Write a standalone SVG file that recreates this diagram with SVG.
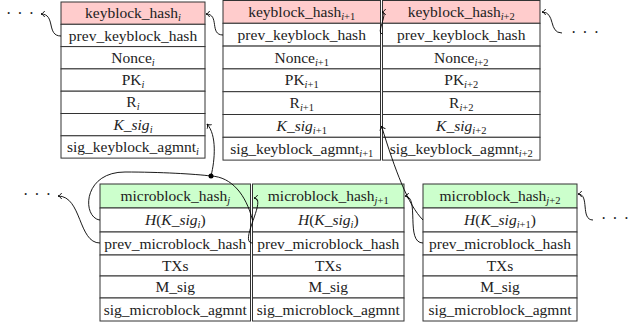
<svg xmlns="http://www.w3.org/2000/svg" width="629" height="327" viewBox="0 0 629 327">
<style>
.r{fill:#fff;stroke:#333;stroke-width:1}
.kh{fill:#ffcccc;stroke:#333;stroke-width:1}
.mh{fill:#ccffcc;stroke:#333;stroke-width:1}
text{font-family:"Liberation Serif","Times New Roman",serif;font-size:15.5px;fill:#222;text-anchor:middle}
.s{font-size:10.5px}
.it{font-style:italic}
.c{fill:none;stroke:#000;stroke-width:0.9;marker-end:url(#a)}
.l{fill:none;stroke:#000;stroke-width:0.9}
.d{font-size:16px;text-anchor:start;letter-spacing:1px;fill:#222}
</style>
<defs>
<marker id="a" markerUnits="userSpaceOnUse" markerWidth="10" markerHeight="10" viewBox="-5 -5 10 10" refX="0" refY="0" orient="auto">
<path d="M-3.6,-3 C-2.6,-1.1 -1.2,-0.3 0,0 C-1.2,0.3 -2.6,1.1 -3.6,3" fill="none" stroke="#000" stroke-width="0.9"/>
</marker>
</defs>

<g id="keyblock_i">
<rect class="kh" x="61" y="2" width="144" height="22.3"/>
<rect class="r" x="61" y="24.3" width="144" height="22.3"/>
<rect class="r" x="61" y="46.6" width="144" height="22.3"/>
<rect class="r" x="61" y="68.9" width="144" height="22.3"/>
<rect class="r" x="61" y="91.2" width="144" height="22.3"/>
<rect class="r" x="61" y="113.5" width="144" height="22.3"/>
<rect class="r" x="61" y="135.8" width="144" height="22.3"/>
<text x="133" y="18.2">keyblock_hash<tspan class="s it" dy="3">i</tspan></text>
<text x="133" y="40.5">prev_keyblock_hash</text>
<text x="133" y="62.8">Nonce<tspan class="s it" dy="3">i</tspan></text>
<text x="133" y="85.1">PK<tspan class="s it" dy="3">i</tspan></text>
<text x="133" y="107.4">R<tspan class="s it" dy="3">i</tspan></text>
<text x="133" y="129.7"><tspan class="it">K_sig</tspan><tspan class="s it" dy="3">i</tspan></text>
<text x="133" y="152">sig_keyblock_agmnt<tspan class="s it" dy="3">i</tspan></text>
</g>

<g id="keyblock_i1">
<rect class="kh" x="223" y="0.5" width="157.5" height="22.8"/>
<rect class="r" x="223" y="23.3" width="157.5" height="22.8"/>
<rect class="r" x="223" y="46.1" width="157.5" height="22.8"/>
<rect class="r" x="223" y="68.9" width="157.5" height="22.8"/>
<rect class="r" x="223" y="91.7" width="157.5" height="22.8"/>
<rect class="r" x="223" y="114.5" width="157.5" height="22.8"/>
<rect class="r" x="223" y="137.3" width="157.5" height="22.8"/>
<text x="301.75" y="16.9">keyblock_hash<tspan class="s" dy="3"><tspan class="it">i</tspan>+1</tspan></text>
<text x="301.75" y="39.7">prev_keyblock_hash</text>
<text x="301.75" y="62.5">Nonce<tspan class="s" dy="3"><tspan class="it">i</tspan>+1</tspan></text>
<text x="301.75" y="85.3">PK<tspan class="s" dy="3"><tspan class="it">i</tspan>+1</tspan></text>
<text x="301.75" y="108.1">R<tspan class="s" dy="3"><tspan class="it">i</tspan>+1</tspan></text>
<text x="301.75" y="130.9"><tspan class="it">K_sig</tspan><tspan class="s" dy="3"><tspan class="it">i</tspan>+1</tspan></text>
<text x="301.75" y="153.7">sig_keyblock_agmnt<tspan class="s" dy="3"><tspan class="it">i</tspan>+1</tspan></text>
</g>

<g id="keyblock_i2">
<rect class="kh" x="382.5" y="0.5" width="157.5" height="22.8"/>
<rect class="r" x="382.5" y="23.3" width="157.5" height="22.8"/>
<rect class="r" x="382.5" y="46.1" width="157.5" height="22.8"/>
<rect class="r" x="382.5" y="68.9" width="157.5" height="22.8"/>
<rect class="r" x="382.5" y="91.7" width="157.5" height="22.8"/>
<rect class="r" x="382.5" y="114.5" width="157.5" height="22.8"/>
<rect class="r" x="382.5" y="137.3" width="157.5" height="22.8"/>
<text x="461.25" y="16.9">keyblock_hash<tspan class="s" dy="3"><tspan class="it">i</tspan>+2</tspan></text>
<text x="461.25" y="39.7">prev_keyblock_hash</text>
<text x="461.25" y="62.5">Nonce<tspan class="s" dy="3"><tspan class="it">i</tspan>+2</tspan></text>
<text x="461.25" y="85.3">PK<tspan class="s" dy="3"><tspan class="it">i</tspan>+2</tspan></text>
<text x="461.25" y="108.1">R<tspan class="s" dy="3"><tspan class="it">i</tspan>+2</tspan></text>
<text x="461.25" y="130.9"><tspan class="it">K_sig</tspan><tspan class="s" dy="3"><tspan class="it">i</tspan>+2</tspan></text>
<text x="461.25" y="153.7">sig_keyblock_agmnt<tspan class="s" dy="3"><tspan class="it">i</tspan>+2</tspan></text>
</g>

<g id="microblock_j">
<rect class="mh" x="100" y="184" width="150.5" height="24"/>
<rect class="r" x="100" y="208" width="150.5" height="24"/>
<rect class="r" x="100" y="232" width="150.5" height="23"/>
<rect class="r" x="100" y="255" width="150.5" height="21"/>
<rect class="r" x="100" y="276" width="150.5" height="22"/>
<rect class="r" x="100" y="298" width="150.5" height="23"/>
<text x="175.25" y="201">microblock_hash<tspan class="s it" dy="3">j</tspan></text>
<text x="175.25" y="225"><tspan class="it">H</tspan>(<tspan class="it">K_sig</tspan><tspan class="s it" dy="3">i</tspan><tspan dy="-3">)</tspan></text>
<text x="175.25" y="248.5">prev_microblock_hash</text>
<text x="175.25" y="270.5">TXs</text>
<text x="175.25" y="292">M_sig</text>
<text x="175.25" y="314.5">sig_microblock_agmnt</text>
</g>

<g id="microblock_j1">
<rect class="mh" x="252.5" y="184" width="151.5" height="24"/>
<rect class="r" x="252.5" y="208" width="151.5" height="24"/>
<rect class="r" x="252.5" y="232" width="151.5" height="23"/>
<rect class="r" x="252.5" y="255" width="151.5" height="21"/>
<rect class="r" x="252.5" y="276" width="151.5" height="22"/>
<rect class="r" x="252.5" y="298" width="151.5" height="23"/>
<text x="328.25" y="201">microblock_hash<tspan class="s" dy="3"><tspan class="it">j</tspan>+1</tspan></text>
<text x="328.25" y="225"><tspan class="it">H</tspan>(<tspan class="it">K_sig</tspan><tspan class="s it" dy="3">i</tspan><tspan dy="-3">)</tspan></text>
<text x="328.25" y="248.5">prev_microblock_hash</text>
<text x="328.25" y="270.5">TXs</text>
<text x="328.25" y="292">M_sig</text>
<text x="328.25" y="314.5">sig_microblock_agmnt</text>
</g>

<g id="microblock_j2">
<rect class="mh" x="423" y="184" width="154" height="24"/>
<rect class="r" x="423" y="208" width="154" height="24"/>
<rect class="r" x="423" y="232" width="154" height="23"/>
<rect class="r" x="423" y="255" width="154" height="21"/>
<rect class="r" x="423" y="276" width="154" height="22"/>
<rect class="r" x="423" y="298" width="154" height="23"/>
<text x="500" y="201">microblock_hash<tspan class="s" dy="3"><tspan class="it">j</tspan>+2</tspan></text>
<text x="500" y="225"><tspan class="it">H</tspan>(<tspan class="it">K_sig</tspan><tspan class="s" dy="3"><tspan class="it">i</tspan>+1</tspan><tspan dy="-3">)</tspan></text>
<text x="500" y="248.5">prev_microblock_hash</text>
<text x="500" y="270.5">TXs</text>
<text x="500" y="292">M_sig</text>
<text x="500" y="314.5">sig_microblock_agmnt</text>
</g>

<g id="ellipses">
<text class="d" x="6" y="18.5">· · ·</text>
<text class="d" x="571" y="37.5">· · ·</text>
<text class="d" x="23" y="199.5">· · ·</text>
<text class="d" x="601" y="224">· · ·</text>
</g>

<g id="connectors">
<path class="c" d="M61,36 C46,36 56,14 41,14"/>
<path class="c" d="M223,35 C209,35 220,14 206,14"/>
<path class="c" d="M382.5,34 C375,34 389,12 382,12"/>
<path class="c" d="M562,33 C548,33 556,12 542,12"/>
<path class="c" d="M100,243 C78,243 82,196 58,196"/>
<path class="c" d="M252.5,243 C238,243 268,198 254,198"/>
<path class="c" d="M423,243 C405,243 420,196 405,196"/>
<path class="c" d="M593,220 C580,220 590,194 578,194"/>
<path class="l" d="M100,220 C82,218 82,172 125,172 C160,172 195,174 211,176"/>
<path class="l" d="M252.5,220 C246,195 232,177 211,176"/>
<path class="c" d="M211,176 C215,160 217,135 207,124"/>
<path class="c" d="M423,220 C408,205 395,170 381.5,126"/>
<circle cx="211" cy="176" r="2.5" fill="#000"/>
</g>
</svg>
